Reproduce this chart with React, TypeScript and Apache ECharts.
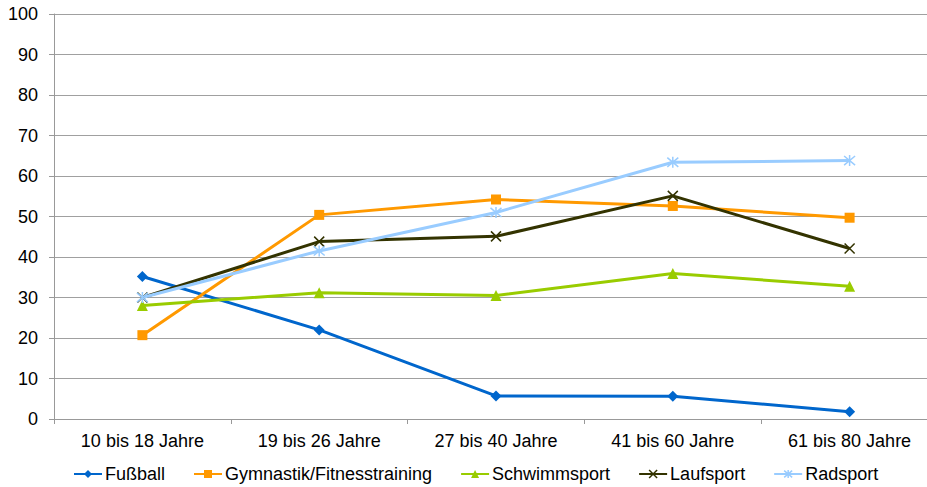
import React, { useEffect, useRef } from "react";
import * as echarts from "echarts";

const categories = ["10 bis 18 Jahre", "19 bis 26 Jahre", "27 bis 40 Jahre", "41 bis 60 Jahre", "61 bis 80 Jahre"];
const fussball = [35.2, 22.0, 5.7, 5.6, 1.8];
const gymnastik = [20.7, 50.4, 54.2, 52.6, 49.7];
const schwimmsport = [28.0, 31.2, 30.5, 35.9, 32.8];
const laufsport = [30.0, 43.8, 45.1, 55.1, 42.1];
const radsport = [30.0, 41.5, 51.0, 63.4, 63.8];
const yTicks = { min: 0, max: 100, interval: 10 };

const X_PATH = "path://M0,0L10,10M10,0L0,10";
const STAR_PATH = "path://M0,0L10,10M10,0L0,10M5,-1L5,11";

export default function App() {
  const ref = useRef<HTMLDivElement>(null);
  useEffect(() => {
    const chart = echarts.init(ref.current!, null, { renderer: "svg" });
    const font = "'Liberation Sans', Arial, sans-serif";
    const mk = (name: string, data: number[], color: string, symbol: string, size: number, stroke = false) => ({
      name,
      type: "line",
      data,
      symbol,
      symbolSize: size,
      showSymbol: true,
      lineStyle: { color, width: 3 },
      itemStyle: stroke
        ? { color: "rgba(0,0,0,0)", borderColor: color, borderWidth: 1.5 }
        : { color, borderWidth: 0 },
      emphasis: { disabled: true },
      z: 2,
    });
    chart.setOption({
      animation: false,
      backgroundColor: "#ffffff",
      textStyle: { fontFamily: font },
      grid: { left: 54, right: 0, top: 14, bottom: 68, containLabel: false },
      legend: {
        top: 465,
        left: 73,
        padding: 0,
        itemWidth: 28,
        itemHeight: 10,
        itemGap: 28,
        textStyle: { fontFamily: font, fontSize: 18, color: "#000", padding: [0, 0, 0, -2] },
        data: [
          { name: "Fußball", itemStyle: { color: "#0066CC" } },
          { name: "Gymnastik/Fitnesstraining", itemStyle: { color: "#FF9900" } },
          { name: "Schwimmsport", itemStyle: { color: "#99CC00" } },
          { name: "Laufsport", itemStyle: { color: "rgba(0,0,0,0)", borderColor: "#333300", borderWidth: 1.5 } },
          { name: "Radsport", itemStyle: { color: "rgba(0,0,0,0)", borderColor: "#99CCFF", borderWidth: 1.5 } },
        ],
      },
      xAxis: {
        type: "category",
        data: categories,
        boundaryGap: true,
        axisLine: { lineStyle: { color: "#999999", width: 1 } },
        axisTick: { show: true, length: 5, lineStyle: { color: "#999999" } },
        axisLabel: { fontFamily: font, fontSize: 18, color: "#000", margin: 13 },
      },
      yAxis: {
        type: "value",
        min: yTicks.min,
        max: yTicks.max,
        interval: yTicks.interval,
        axisLine: { show: true, lineStyle: { color: "#999999", width: 1 } },
        axisTick: { show: true, length: 5, lineStyle: { color: "#999999" } },
        axisLabel: { fontFamily: font, fontSize: 18, color: "#000", margin: 16 },
        splitLine: { lineStyle: { color: "#a0a0a0", width: 1 } },
      },
      series: [
        mk("Fußball", fussball, "#0066CC", "diamond", 11),
        mk("Gymnastik/Fitnesstraining", gymnastik, "#FF9900", "rect", 10),
        mk("Schwimmsport", schwimmsport, "#99CC00", "triangle", 11),
        mk("Laufsport", laufsport, "#333300", X_PATH, 10, true),
        mk("Radsport", radsport, "#99CCFF", STAR_PATH, 11, true),
      ],
    });
    return () => chart.dispose();
  }, []);
  return (
    <div style={{ position: "absolute", left: 0, top: 0, width: 927, height: 487, overflow: "hidden" }}>
      <div ref={ref} style={{ position: "absolute", left: 0, top: 0, width: 938, height: 487 }} />
    </div>
  );
}
